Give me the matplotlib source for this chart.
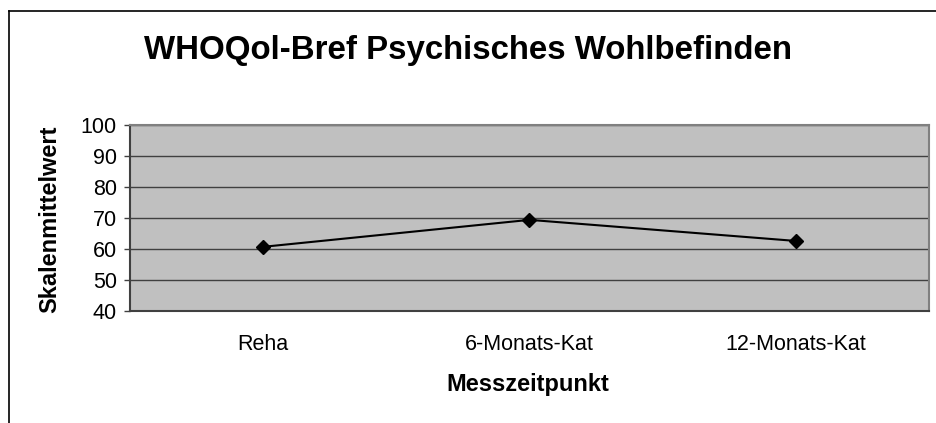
import matplotlib.pyplot as plt
from matplotlib.lines import Line2D

plt.rcParams['font.family'] = ['Liberation Sans', 'DejaVu Sans']

categories = ["Reha", "6-Monats-Kat", "12-Monats-Kat"]
values = [60.7, 69.4, 62.6]
yticks = [40, 50, 60, 70, 80, 90, 100]

fig = plt.figure(figsize=(9.37, 4.23), dpi=100)
ax = fig.add_axes([130 / 937, 112 / 423, 799 / 937, 186 / 423])

x = range(len(categories))
ax.plot(x, values, c="black", lw=1.5, marker="D", ms=7, zorder=3)

ax.set_facecolor("#c0c0c0")
ax.set_xlim(-0.5, len(categories) - 0.5)
ax.set_ylim(40, 100)
ax.set_yticks(yticks)
ax.set_xticks(list(x))
ax.set_xticklabels(categories)
ax.yaxis.grid(True, color="#404040", lw=1)
ax.set_axisbelow(True)
ax.tick_params(axis="x", length=0, pad=16.5, labelsize=15.5)
ax.tick_params(axis="y", length=4.5, width=1, color="#404040", labelsize=15.5, pad=5)
for s in ax.spines.values():
    s.set_color("#808080")
    s.set_linewidth(1.5)
ax.spines["left"].set_color("#404040")
ax.spines["bottom"].set_color("#404040")

ax.set_xlabel("Messzeitpunkt", fontsize=17, fontweight="bold", va="center")
ax.xaxis.set_label_coords(528 / 937, 1 - 384 / 423, transform=fig.transFigure)
ax.set_ylabel("Skalenmittelwert", fontsize=17, fontweight="bold", va="center")
ax.yaxis.set_label_coords(50 / 937, 1 - 219 / 423, transform=fig.transFigure)
fig.text(468 / 937, 1 - 50 / 423, "WHOQol-Bref Psychisches Wohlbefinden",
         ha="center", va="center", fontsize=23.8, fontweight="bold")

# chart frame (cut off on the right and bottom like the reference)
fig.add_artist(Line2D([9 / 937, 9 / 937], [0, 1 - 11 / 423], transform=fig.transFigure, c="black", lw=1.2))
fig.add_artist(Line2D([9 / 937, 1], [1 - 11 / 423, 1 - 11 / 423], transform=fig.transFigure, c="black", lw=1.2))

fig.savefig("out.png", dpi=100)
